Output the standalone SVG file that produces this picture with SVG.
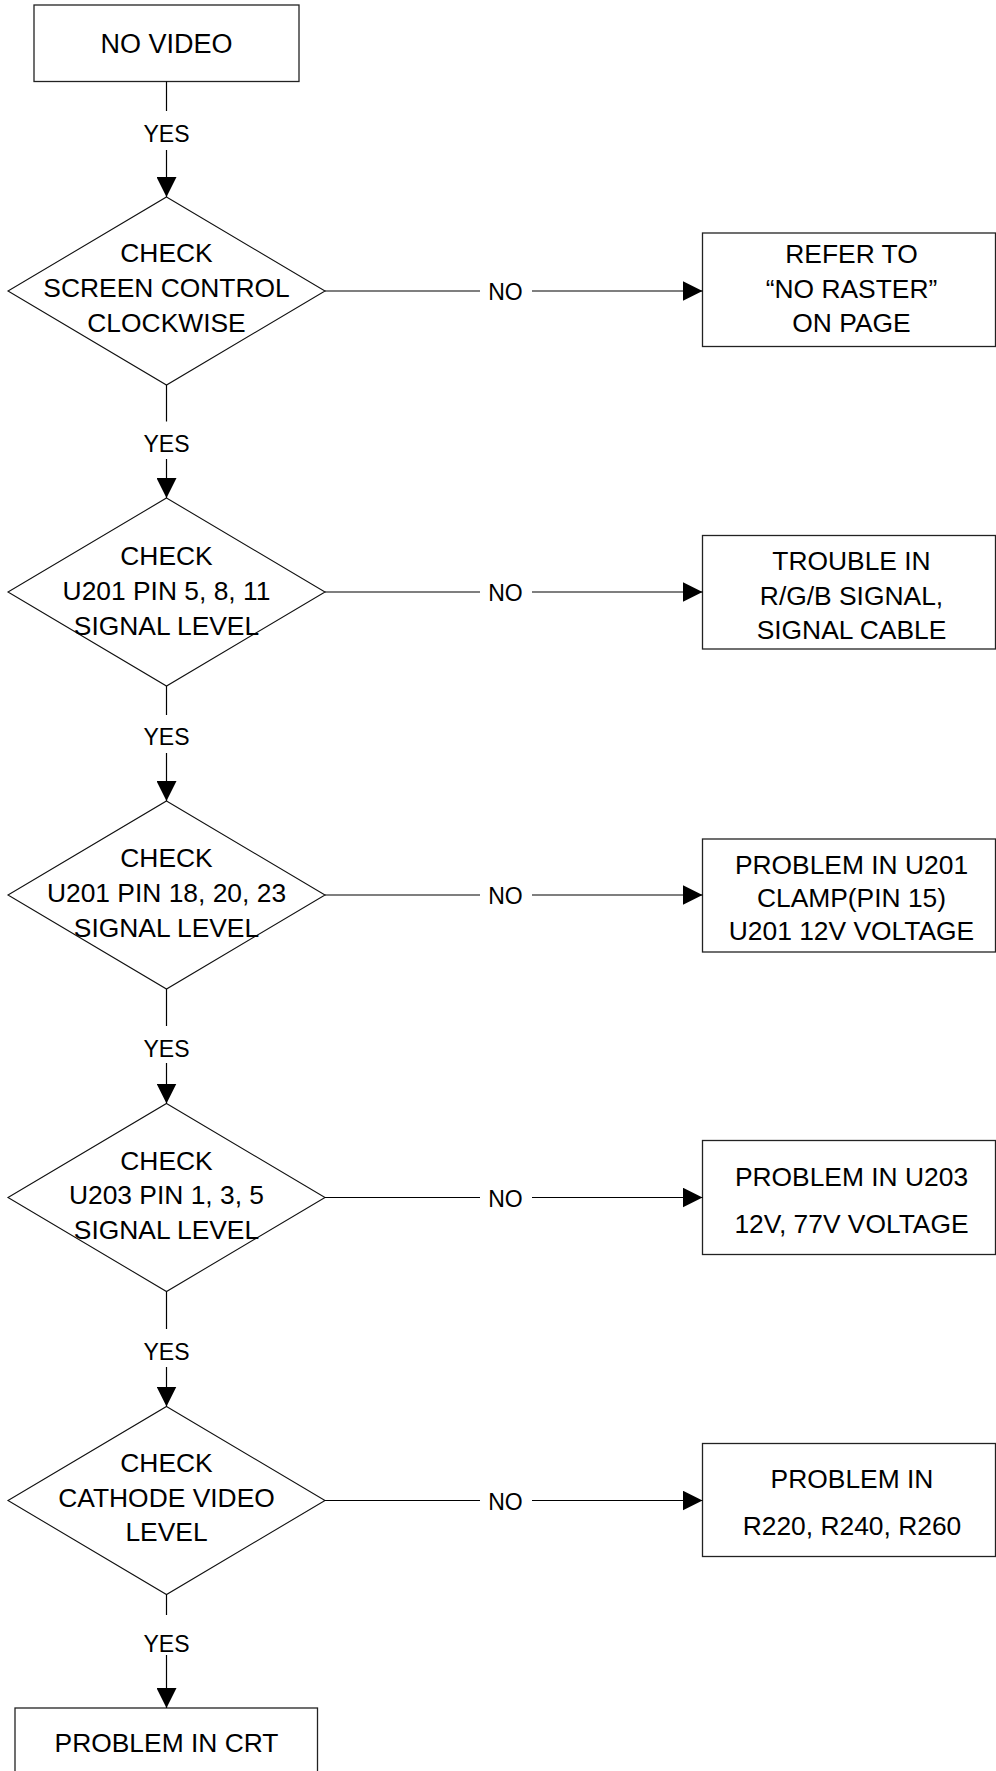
<svg xmlns="http://www.w3.org/2000/svg" width="996" height="1771" viewBox="0 0 996 1771">
<style>
.box{fill:#fff;stroke:#222;stroke-width:1.3}
.dia{fill:#fff;stroke:#111;stroke-width:1.1}
.t{font-family:"Liberation Sans",Arial,sans-serif;font-size:26.4px;fill:#000;text-anchor:middle}
.lbl{font-family:"Liberation Sans",Arial,sans-serif;font-size:23px;fill:#000;text-anchor:middle}
.c line{stroke:#000;stroke-width:1.2}
</style>
<defs>
<marker id="ah" viewBox="0 0 20 20" refX="20" refY="10" markerWidth="20" markerHeight="20" markerUnits="userSpaceOnUse" orient="auto"><path d="M0,0 L20,10 L0,20 z" fill="#000"/></marker>
</defs>
<rect width="996" height="1771" fill="#fff"/>

<g id="n_novideo"><rect class="box" x="34" y="5" width="265" height="76.5"/><text class="t" x="166.5" y="52.5" style="font-size:27px">NO VIDEO</text></g>

<g id="d1"><polygon class="dia" points="166.5,197 325,291 166.5,385 8,291"/>
<text class="t" x="166.5" y="262">CHECK</text><text class="t" x="166.5" y="297">SCREEN CONTROL</text><text class="t" x="166.5" y="332">CLOCKWISE</text></g>

<g id="d2"><polygon class="dia" points="166.5,498 325,592 166.5,686 8,592"/>
<text class="t" x="166.5" y="565">CHECK</text><text class="t" x="166.5" y="600">U201 PIN 5, 8, 11</text><text class="t" x="166.5" y="635">SIGNAL LEVEL</text></g>

<g id="d3"><polygon class="dia" points="166.5,801 325,895 166.5,989 8,895"/>
<text class="t" x="166.5" y="867">CHECK</text><text class="t" x="166.5" y="902">U201 PIN 18, 20, 23</text><text class="t" x="166.5" y="937">SIGNAL LEVEL</text></g>

<g id="d4"><polygon class="dia" points="166.5,1103.5 325,1197.5 166.5,1291.5 8,1197.5"/>
<text class="t" x="166.5" y="1169.5">CHECK</text><text class="t" x="166.5" y="1204">U203 PIN 1, 3, 5</text><text class="t" x="166.5" y="1239">SIGNAL LEVEL</text></g>

<g id="d5"><polygon class="dia" points="166.5,1406.5 325,1500.5 166.5,1594.5 8,1500.5"/>
<text class="t" x="166.5" y="1472">CHECK</text><text class="t" x="166.5" y="1507">CATHODE VIDEO</text><text class="t" x="166.5" y="1541">LEVEL</text></g>

<g id="b1"><rect class="box" x="702.5" y="233" width="293" height="113.5"/>
<text class="t" x="851.5" y="263">REFER TO</text><text class="t" x="851.5" y="298">“NO RASTER”</text><text class="t" x="851.5" y="332">ON PAGE</text></g>

<g id="b2"><rect class="box" x="702.5" y="535.5" width="293" height="113.5"/>
<text class="t" x="851.5" y="570">TROUBLE IN</text><text class="t" x="851.5" y="605">R/G/B SIGNAL,</text><text class="t" x="851.5" y="638.5">SIGNAL CABLE</text></g>

<g id="b3"><rect class="box" x="702.5" y="839" width="293" height="113"/>
<text class="t" x="851.5" y="873.5">PROBLEM IN U201</text><text class="t" x="851.5" y="907">CLAMP(PIN 15)</text><text class="t" x="851.5" y="940">U201 12V VOLTAGE</text></g>

<g id="b4"><rect class="box" x="702.5" y="1140.5" width="293" height="114"/>
<text class="t" x="851.5" y="1186">PROBLEM IN U203</text><text class="t" x="851.5" y="1233">12V, 77V VOLTAGE</text></g>

<g id="b5"><rect class="box" x="702.5" y="1443.5" width="293" height="113"/>
<text class="t" x="852" y="1488">PROBLEM IN</text><text class="t" x="852" y="1535">R220, R240, R260</text></g>

<g id="n_crt"><rect class="box" x="15" y="1708" width="302.5" height="80"/><text class="t" x="166.5" y="1752">PROBLEM IN CRT</text></g>

<g id="connectors" class="c">
<line x1="166.5" y1="81.5" x2="166.5" y2="111"/><line x1="166.5" y1="150" x2="166.5" y2="197" marker-end="url(#ah)"/>
<line x1="166.5" y1="385" x2="166.5" y2="421.5"/><line x1="166.5" y1="459" x2="166.5" y2="498" marker-end="url(#ah)"/>
<line x1="166.5" y1="686" x2="166.5" y2="715"/><line x1="166.5" y1="753" x2="166.5" y2="801" marker-end="url(#ah)"/>
<line x1="166.5" y1="989" x2="166.5" y2="1026"/><line x1="166.5" y1="1063" x2="166.5" y2="1103.5" marker-end="url(#ah)"/>
<line x1="166.5" y1="1291.5" x2="166.5" y2="1329"/><line x1="166.5" y1="1367" x2="166.5" y2="1406.5" marker-end="url(#ah)"/>
<line x1="166.5" y1="1594.5" x2="166.5" y2="1615"/><line x1="166.5" y1="1655" x2="166.5" y2="1708" marker-end="url(#ah)"/>

<line x1="325" y1="291" x2="480" y2="291"/><line x1="532" y1="291" x2="702.5" y2="291" marker-end="url(#ah)"/>
<line x1="325" y1="592" x2="480" y2="592"/><line x1="532" y1="592" x2="702.5" y2="592" marker-end="url(#ah)"/>
<line x1="325" y1="895" x2="480" y2="895"/><line x1="532" y1="895" x2="702.5" y2="895" marker-end="url(#ah)"/>
<line x1="325" y1="1197.5" x2="480" y2="1197.5"/><line x1="532" y1="1197.5" x2="702.5" y2="1197.5" marker-end="url(#ah)"/>
<line x1="325" y1="1500.5" x2="480" y2="1500.5"/><line x1="532" y1="1500.5" x2="702.5" y2="1500.5" marker-end="url(#ah)"/>

<text class="lbl" x="166.5" y="141.5">YES</text>
<text class="lbl" x="166.5" y="451.5">YES</text>
<text class="lbl" x="166.5" y="745">YES</text>
<text class="lbl" x="166.5" y="1057">YES</text>
<text class="lbl" x="166.5" y="1360">YES</text>
<text class="lbl" x="166.5" y="1651.5">YES</text>
<text class="lbl" x="505.5" y="300">NO</text>
<text class="lbl" x="505.5" y="601">NO</text>
<text class="lbl" x="505.5" y="904">NO</text>
<text class="lbl" x="505.5" y="1206.5">NO</text>
<text class="lbl" x="505.5" y="1509.5">NO</text>
</g>
</svg>
